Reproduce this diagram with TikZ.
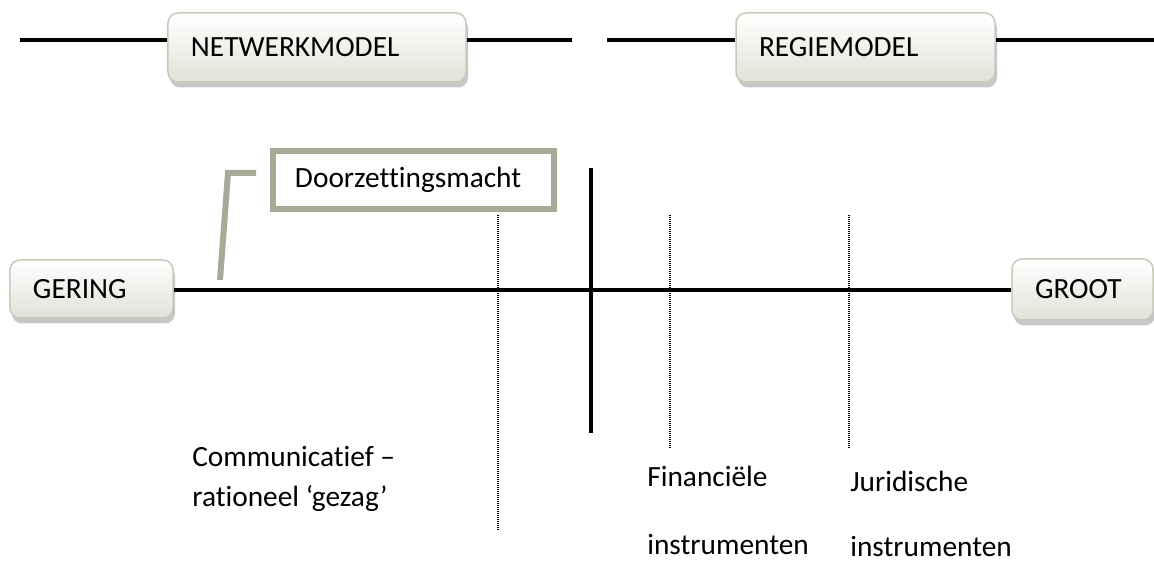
\documentclass[tikz,border=0pt]{standalone}
\usepackage{fontspec}
\setmainfont{Carlito}[Ligatures={TeX,NoCommon}]
\usetikzlibrary{shadows, calc}

\definecolor{boxedge}{HTML}{C9C9BB}
\definecolor{boxlow}{HTML}{E2E2D9}
\definecolor{calloutgrey}{HTML}{A8A996}

\begin{document}
\begin{tikzpicture}[x=0.2mm, y=-0.2mm,
    every node/.style={font=\fontsize{16.7}{20}\selectfont},
    modelbox/.style={draw=boxedge, line width=0.3mm, rounded corners=2mm,
        top color=white, bottom color=boxlow, align=left, inner xsep=0.46cm,
        drop shadow={shadow xshift=0.4mm, shadow yshift=-1.1mm, fill=black!22, opacity=1}},
    notebox/.style={draw=calloutgrey, line width=1.2mm, fill=white, align=left,
        inner xsep=0.44cm, minimum height=1.16cm, text width=4.74cm},
    lbl/.style={inner sep=0pt, align=left},
    axis/.style={line width=0.75mm},
    tick/.style={line width=0.25mm, dash pattern=on 0.2mm off 0.2mm}]
  \useasboundingbox (0,0) rectangle (1154,561);

  % top row: the two models
  \node[modelbox, text width=5.04cm, minimum height=1.38cm] (netwerk) at (317,47.5) {NETWERKMODEL};
  \node[modelbox, text width=4.26cm, minimum height=1.38cm] (regie) at (865.5,47.5) {REGIEMODEL};
  \coordinate (netstart) at (20,40);
  \coordinate (netend) at (572,40);
  \coordinate (regstart) at (607,40);
  \coordinate (regend) at (1154,40);
  \draw[axis] (netstart) -- (netstart -| netwerk.west);
  \draw[axis] (netend -| netwerk.east) -- (netend);
  \draw[axis] (regstart) -- (regstart -| regie.west);
  \draw[axis] (regend -| regie.east) -- (regend);

  % main axis
  \node[modelbox, text width=2.34cm, minimum height=1.16cm] (gering) at (91.5,289) {GERING};
  \node[modelbox, text width=1.90cm, minimum height=1.22cm] (groot) at (1082.5,289.5) {GROOT};
  \draw[axis] (gering.east |- 0,290) -- (groot.west |- 0,290);
  \draw[axis] (591,168) -- (591,433);
  \draw[tick] (498,215) -- (498,530);
  \draw[tick] (670,215) -- (670,449);
  \draw[tick] (849,215) -- (849,449);

  % callout
  \node[notebox] (doorzetting) at (413.5,180) {Doorzettingsmacht};
  \coordinate (calloutfoot) at (220,280);
  \draw[calloutgrey, line width=1.2mm] (calloutfoot) -- (228,173) -- (256,173);

  % labels under the axis
  \node[lbl, anchor=base west] (communicatief) at (192,507) {Communicatief --\\[3.2pt]rationeel `gezag'};
  \node[lbl, anchor=base west] (financieel) at (647,554) {Financiële\\[18.5pt]instrumenten};
  \node[lbl, anchor=base west] (juridisch) at (850,556) {Juridische\\[16.5pt]instrumenten};
\end{tikzpicture}
\end{document}
